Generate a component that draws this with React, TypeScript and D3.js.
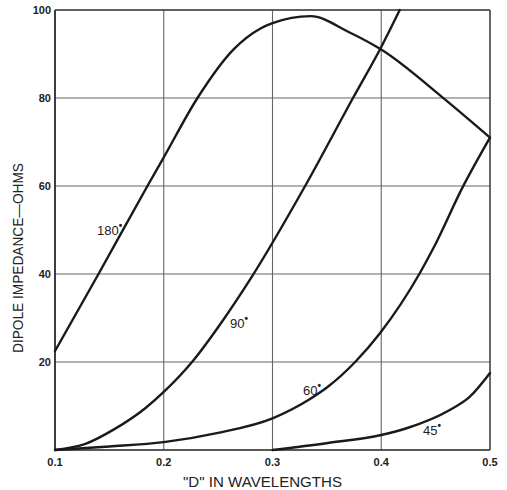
import React from "react";
import * as d3 from "d3";

const xTicks = [0.1, 0.2, 0.3, 0.4, 0.5];
const xTickLabels = ["0.1", "0.2", "0.3", "0.4", "0.5"];
const yTicks = [20, 40, 60, 80, 100];
const yTickLabels = ["20", "40", "60", "80", "100"];

const curve180: [number, number][] = [
  [0.1, 22.5], [0.14, 40], [0.185, 60], [0.2, 66.5], [0.231, 80], [0.264, 91],
  [0.289, 95.8], [0.3, 97], [0.335, 98.6], [0.37, 95], [0.4, 91], [0.456, 80.2], [0.5, 71],
];
const curve90: [number, number][] = [
  [0.1, 0], [0.128, 1.4], [0.155, 4.8], [0.183, 9.5], [0.2, 13.2], [0.226, 20],
  [0.2545, 29.5], [0.279, 38.6], [0.33, 60], [0.374, 80], [0.4, 91.6], [0.417, 100],
];
const curve60: [number, number][] = [
  [0.1, 0], [0.15, 0.8], [0.2, 1.8], [0.25, 3.9], [0.3, 7.2], [0.3345, 11.6], [0.35, 14.2],
  [0.376, 20], [0.399, 26.6], [0.435, 40], [0.448, 45.9], [0.475, 59.8], [0.5, 71],
];
const curve45: [number, number][] = [
  [0.3, 0], [0.351, 1.6], [0.4, 3.4], [0.424, 5.0], [0.463, 9.1], [0.481, 12], [0.5, 17.5],
];
const seriesNames = ["180", "90", "60", "45"];
const seriesData = [curve180, curve90, curve60, curve45];
const labelPos: [number, number][] = [[0.1386, 48.9], [0.261, 27.7], [0.328, 12.5], [0.4384, 3.4]];

export default function App() {
  const x = d3.scaleLinear().domain([0.1, 0.5]).range([55, 490]);
  const y = d3.scaleLinear().domain([0, 100]).range([450, 10]);
  const line = d3
    .line<[number, number]>()
    .x((d) => x(d[0]))
    .y((d) => y(d[1]))
    .curve(d3.curveMonotoneX);
  const font = "'Liberation Sans', Arial, sans-serif";
  return (
    <svg width={507} height={490} style={{ position: "absolute", left: 0, top: 0, background: "#fff" }}>
      <rect x={0} y={0} width={507} height={490} fill="#fff" />
      {xTicks.map((t) => (
        <line key={"gx" + t} x1={x(t)} x2={x(t)} y1={y(0)} y2={y(100)} stroke="#666" strokeWidth={1.1} />
      ))}
      {yTicks.map((t) => (
        <line key={"gy" + t} x1={x(0.1)} x2={x(0.5)} y1={y(t)} y2={y(t)} stroke="#666" strokeWidth={1.1} />
      ))}
      <line x1={x(0.1)} x2={x(0.1)} y1={y(0)} y2={y(100)} stroke="#222" strokeWidth={1.6} />
      <line x1={x(0.1)} x2={x(0.5)} y1={y(0)} y2={y(0)} stroke="#222" strokeWidth={1.6} />
      <line x1={x(0.1)} x2={x(0.5)} y1={y(100)} y2={y(100)} stroke="#444" strokeWidth={1.3} />
      <line x1={x(0.5)} x2={x(0.5)} y1={y(0)} y2={y(100)} stroke="#444" strokeWidth={1.3} />
      {seriesData.map((s, i) => (
        <path key={"s" + i} d={line(s) || ""} fill="none" stroke="#1a1a1a" strokeWidth={2.4} strokeLinecap="round" />
      ))}
      {seriesNames.map((n, i) => (
        <text key={"l" + i} x={x(labelPos[i][0])} y={y(labelPos[i][1])} fontFamily={font} fontSize={13} fill="#222">
          {n}
          <tspan dy={-6} fontSize={10} fontWeight="bold">•</tspan>
        </text>
      ))}
      {yTicks.map((t, i) => (
        <text key={"yt" + t} x={51} y={y(t)} dy="0.35em" textAnchor="end" fontFamily={font} fontWeight="bold" fontSize={11} fill="#222">
          {yTickLabels[i]}
        </text>
      ))}
      {xTicks.map((t, i) => (
        <text key={"xt" + t} x={x(t)} y={462} dy="0.35em" textAnchor="middle" fontFamily={font} fontWeight="bold" fontSize={11} fill="#222">
          {xTickLabels[i]}
        </text>
      ))}
      <text x={183} y={487} fontFamily={font} fontSize={15} textLength={159} lengthAdjust="spacingAndGlyphs" fill="#222">
        {"\"D\"  IN   WAVELENGTHS"}
      </text>
      <text
        transform="translate(23,353) rotate(-90)"
        fontFamily={font}
        fontSize={14}
        textLength={190}
        lengthAdjust="spacingAndGlyphs"
        fill="#222"
      >
        {"DIPOLE  IMPEDANCE\u2014OHMS"}
      </text>
    </svg>
  );
}
